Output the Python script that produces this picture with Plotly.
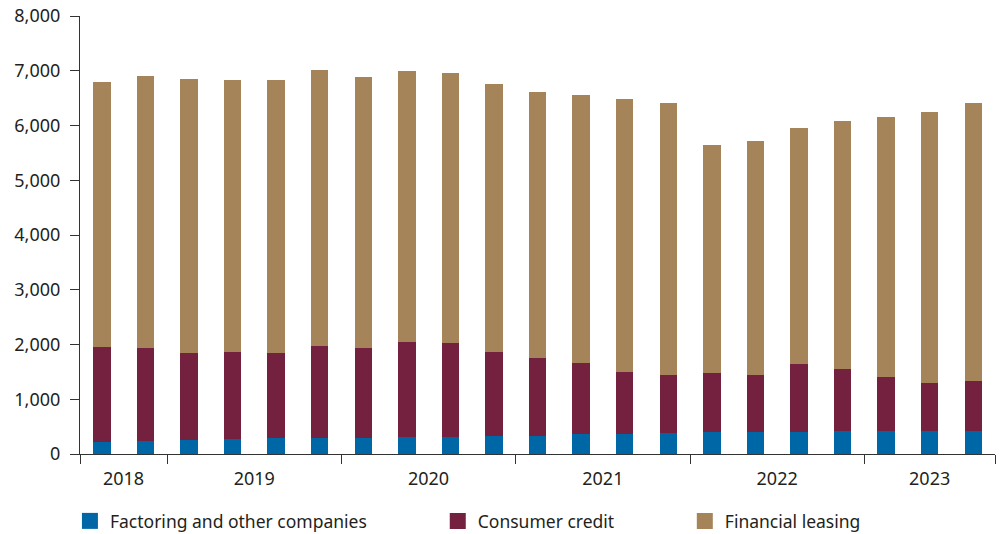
import plotly.graph_objects as go

years = ["2018", "2019", "2020", "2021", "2022", "2023"]
bars_per_year = [2, 4, 4, 4, 4, 3]

factoring = [225, 244, 262, 281, 299, 299, 299, 317, 317, 336, 336, 360, 372, 378,
             409, 409, 409, 421, 421, 427, 415]
blue_plus_red = [1952, 1934, 1836, 1861, 1842, 1970, 1934, 2043, 2031, 1861, 1751, 1659,
                 1495, 1440, 1476, 1446, 1641, 1549, 1403, 1305, 1330]
totals = [6796, 6912, 6845, 6832, 6826, 7021, 6894, 6996, 6954, 6766, 6620, 6566, 6480,
          6420, 5641, 5714, 5957, 6084, 6152, 6249, 6407]

consumer = [b - f for b, f in zip(blue_plus_red, factoring)]
leasing = [t - b for t, b in zip(totals, blue_plus_red)]

series_names = ["Factoring and other companies", "Consumer credit", "Financial leasing"]
colors = ["#0067A7", "#74213F", "#A6845A"]

n = len(totals)
xs = list(range(n))

bounds = [-0.5]
for c in bars_per_year:
    bounds.append(bounds[-1] + c)
centers = [(bounds[i] + bounds[i + 1]) / 2 for i in range(len(years))]

font_family = "Noto Sans, Open Sans, sans-serif"
text_color = "#231F20"

fig = go.Figure()
legend_ids = ["legend", "legend2", "legend3"]
for vals, name, col, lg in zip([factoring, consumer, leasing], series_names, colors, legend_ids):
    fig.add_trace(go.Bar(x=xs, y=vals, name=name, marker_color=col,
                         marker_line_width=0, width=0.4, showlegend=False))
    fig.add_trace(go.Scatter(x=[None], y=[None], mode="markers", name=name,
                             marker=dict(symbol="square", size=16, color=col),
                             legend=lg, hoverinfo="skip"))

fig.add_trace(go.Scatter(x=centers, y=[0] * len(centers), xaxis="x2", mode="markers",
                         marker_opacity=0, showlegend=False, hoverinfo="skip"))

leg_common = dict(orientation="h", y=-0.153, yanchor="middle",
                  font=dict(size=17.5, color=text_color), bgcolor="rgba(0,0,0,0)")

fig.update_layout(
    barmode="stack",
    width=1003, height=534,
    margin=dict(l=80, r=8, t=16, b=80, autoexpand=False),
    plot_bgcolor="white", paper_bgcolor="white",
    font=dict(family=font_family, size=18, color=text_color),
    xaxis=dict(range=[-0.5, n - 0.5], tickvals=bounds, ticktext=[""] * len(bounds),
               ticks="outside", ticklen=9, tickcolor="#333333", tickwidth=1,
               showline=True, linecolor="#333333", linewidth=1.2,
               showgrid=False, zeroline=False, automargin=False),
    xaxis2=dict(range=[-0.5, n - 0.5], overlaying="x", anchor="y", side="bottom",
                tickvals=centers, ticktext=years, ticks="", showline=False,
                showgrid=False, zeroline=False, ticklabelstandoff=12, automargin=False,
                tickfont=dict(size=18, color=text_color)),
    yaxis=dict(range=[0, 8000], tickvals=list(range(0, 8001, 1000)),
               tickformat=",d", ticks="outside", ticklen=9, tickcolor="#333333",
               showline=True, linecolor="#333333", linewidth=1.2,
               showgrid=False, zeroline=False, ticklabelstandoff=6, automargin=False,
               ticklabeloverflow="allow"),
    legend=dict(x=-0.011, xanchor="left", **leg_common),
    legend2=dict(x=0.391, xanchor="left", **leg_common),
    legend3=dict(x=0.661, xanchor="left", **leg_common),
    bargap=0.6,
)

fig.write_html("out.html", config={"displayModeBar": False},
               post_script="document.body.style.margin='0';")
